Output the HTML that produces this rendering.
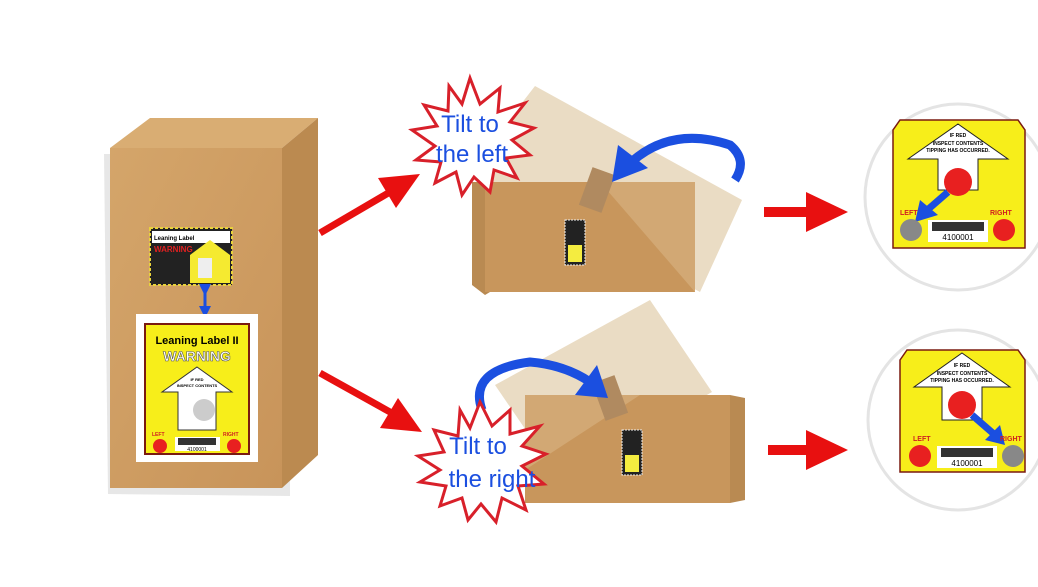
<!DOCTYPE html>
<html><head><meta charset="utf-8"><style>
html,body{margin:0;padding:0;background:#fff;width:1038px;height:587px;overflow:hidden}
svg text{font-family:"Liberation Sans",sans-serif}
</style></head><body>
<svg width="1038" height="587" viewBox="0 0 1038 587" xmlns="http://www.w3.org/2000/svg">
<defs>
<marker id="ar" viewBox="0 0 10 10" refX="5" refY="5" markerWidth="4" markerHeight="4" orient="auto"><path d="M0,0 L10,5 L0,10 z" fill="#1b4fe0"/></marker>
<linearGradient id="fr" x1="0" y1="0" x2="1" y2="1"><stop offset="0" stop-color="#d4a56a"/><stop offset="1" stop-color="#c8945a"/></linearGradient>
</defs>
<polygon points="104,154 108,494 290,496 290,154" fill="#bbb" opacity="0.35"/>
<polygon points="110,148 150,118 318,118 282,148" fill="#d9ad73"/>
<polygon points="282,148 318,118 318,455 282,488" fill="#bb8a50"/>
<rect x="110" y="148" width="172" height="340" fill="url(#fr)"/>
<rect x="150" y="228" width="82" height="57" fill="#222" stroke="#e8d23a" stroke-width="2" stroke-dasharray="3,2"/>
<rect x="152" y="231" width="78" height="12" fill="#fff"/>
<text x="154" y="240" font-size="6" font-weight="bold">Leaning Label</text>
<text x="154" y="252" font-size="8" font-weight="bold" fill="#e02020">WARNING</text>
<polygon points="190,255 210,240 230,255 230,283 190,283" fill="#f5ea30"/>
<rect x="198" y="258" width="14" height="20" fill="#eee"/>
<line x1="205" y1="290" x2="205" y2="312" stroke="#1b4fe0" stroke-width="3" marker-start="url(#ar)" marker-end="url(#ar)"/>
<rect x="136" y="314" width="122" height="148" fill="#fff"/>
<rect x="145" y="324" width="104" height="130" fill="#f7ee1a" stroke="#7a1a10" stroke-width="2"/>
<text x="197" y="344" font-size="11" font-weight="bold" text-anchor="middle" font-family="Liberation Serif">Leaning Label II</text>
<text x="197" y="361" font-size="14" font-weight="bold" text-anchor="middle" fill="#fff" stroke="#555" stroke-width="0.6">WARNING</text>
<polygon points="197,367 232,392 216,392 216,430 178,430 178,392 162,392" fill="#fff" stroke="#333" stroke-width="1"/>
<text x="197" y="381" font-size="4" text-anchor="middle" font-weight="bold">IF RED</text>
<text x="197" y="387" font-size="4" text-anchor="middle" font-weight="bold">INSPECT CONTENTS</text>
<circle cx="204" cy="410" r="11" fill="#ccc"/>
<text x="152" y="436" font-size="5" fill="#d02020" font-weight="bold">LEFT</text>
<text x="223" y="436" font-size="5" fill="#d02020" font-weight="bold">RIGHT</text>
<circle cx="160" cy="446" r="7" fill="#e82020"/>
<circle cx="234" cy="446" r="7" fill="#e82020"/>
<rect x="175" y="437" width="45" height="14" fill="#fff"/>
<rect x="178" y="438" width="38" height="7" fill="#333"/>
<text x="197" y="451" font-size="5" text-anchor="middle">4100001</text>
<line x1="320" y1="233" x2="390" y2="192" stroke="#e81010" stroke-width="7"/>
<polygon points="420,174 378,178 396,208" fill="#e81010"/>
<line x1="320" y1="373" x2="390" y2="412" stroke="#e81010" stroke-width="7"/>
<polygon points="422,432 380,428 398,398" fill="#e81010"/>
<rect x="764" y="207" width="48" height="10" fill="#e81010"/>
<polygon points="806,192 848,212 806,232" fill="#e81010"/>
<rect x="768" y="445" width="44" height="10" fill="#e81010"/>
<polygon points="806,430 848,450 806,470" fill="#e81010"/>
<polygon points="535,86 742,200 700,292 470,170" fill="#eadcc4"/>
<polygon points="472,182 490,182 490,292 485,295 472,285" fill="#b98a52"/>
<polygon points="485,182 695,182 695,292 485,292" fill="#c8965c"/>
<polygon points="600,182 695,182 695,292" fill="#d8b484" opacity="0.6"/>
<rect x="565" y="220" width="20" height="45" fill="#222" stroke="#eee" stroke-dasharray="2,1"/>
<rect x="568" y="245" width="14" height="17" fill="#f4ec40"/>
<rect x="585" y="170" width="24" height="40" fill="#b08a60" transform="rotate(20 597 190)"/>
<path d="M628,165 Q670,125 730,145 Q748,160 735,180" fill="none" stroke="#1b4fe0" stroke-width="9"/>
<polygon points="612,182 618,145 648,168" fill="#1b4fe0"/>
<polygon points="495,385 650,300 712,392 560,480" fill="#eadcc4"/>
<polygon points="525,395 730,395 730,503 525,503" fill="#c8965c"/>
<polygon points="730,395 745,398 745,500 730,503" fill="#b98a52"/>
<polygon points="525,395 640,395 525,470" fill="#d8b484" opacity="0.6"/>
<rect x="622" y="430" width="20" height="45" fill="#222" stroke="#eee" stroke-dasharray="2,1"/>
<rect x="625" y="455" width="14" height="17" fill="#f4ec40"/>
<rect x="598" y="378" width="24" height="40" fill="#b08a60" transform="rotate(-20 610 398)"/>
<path d="M482,410 Q468,370 530,362 Q565,365 590,382" fill="none" stroke="#1b4fe0" stroke-width="9"/>
<polygon points="608,398 575,395 597,365" fill="#1b4fe0"/>
<polygon points="470,78 480,104 500,88 498,112 525,103 510,122 534,128 512,140 530,155 506,158 517,178 494,170 490,192 474,177 462,195 456,172 435,183 441,162 416,160 435,146 412,130 437,126 424,105 448,111 449,86 462,104" fill="#fff" stroke="#d8202a" stroke-width="3"/>
<text x="470" y="132" font-size="24" text-anchor="middle" fill="#1b4fe0">Tilt to</text>
<text x="472" y="162" font-size="24" text-anchor="middle" fill="#1b4fe0">the left</text>
<polygon points="480,402 492,426 510,410 510,434 540,426 522,446 546,454 522,466 544,484 518,486 526,510 502,498 496,522 481,504 468,520 462,498 440,506 446,486 420,482 440,470 418,456 444,452 434,430 458,436 460,410 470,428" fill="#fff" stroke="#d8202a" stroke-width="3"/>
<text x="478" y="454" font-size="24" text-anchor="middle" fill="#1b4fe0">Tilt to</text>
<text x="492" y="487" font-size="24" text-anchor="middle" fill="#1b4fe0">the right</text>
<circle cx="958" cy="197" r="93" fill="#fff" stroke="#e4e4e4" stroke-width="3"/>
<g>
<polygon points="893,130 900,120 1018,120 1025,130 1025,248 893,248" fill="#f7ee1a" stroke="#7a1a10" stroke-width="1.5"/>
<polygon points="958,124 1008,159 978,159 978,190 938,190 938,159 908,159" fill="#fff" stroke="#222"/>
<text x="958" y="137" font-size="5" text-anchor="middle" font-weight="bold">IF RED</text>
<text x="958" y="145" font-size="5" text-anchor="middle" font-weight="bold">INSPECT CONTENTS</text>
<text x="958" y="152" font-size="5" text-anchor="middle" font-weight="bold">TIPPING HAS OCCURRED.</text>
<circle cx="958" cy="182" r="14" fill="#e82020"/>
<line x1="948" y1="192" x2="925" y2="212" stroke="#1b4fe0" stroke-width="7"/>
<polygon points="915,222 920,200 938,215" fill="#1b4fe0"/>
<text x="900" y="215" font-size="7" fill="#d02020" font-weight="bold">LEFT</text>
<text x="990" y="215" font-size="7" fill="#d02020" font-weight="bold">RIGHT</text>
<circle cx="911" cy="230" r="11" fill="#888"/>
<circle cx="1004" cy="230" r="11" fill="#e82020"/>
<rect x="928" y="220" width="60" height="22" fill="#fff"/>
<rect x="932" y="222" width="52" height="9" fill="#333"/>
<text x="958" y="240" font-size="8" text-anchor="middle">4100001</text>
</g>
<circle cx="958" cy="420" r="90" fill="#fff" stroke="#e4e4e4" stroke-width="3"/>
<g>
<polygon points="900,360 907,350 1018,350 1025,360 1025,472 900,472" fill="#f7ee1a" stroke="#7a1a10" stroke-width="1.5"/>
<polygon points="962,353 1010,387 982,387 982,420 942,420 942,387 914,387" fill="#fff" stroke="#222"/>
<text x="962" y="367" font-size="5" text-anchor="middle" font-weight="bold">IF RED</text>
<text x="962" y="375" font-size="5" text-anchor="middle" font-weight="bold">INSPECT CONTENTS</text>
<text x="962" y="382" font-size="5" text-anchor="middle" font-weight="bold">TIPPING HAS OCCURRED.</text>
<circle cx="962" cy="405" r="14" fill="#e82020"/>
<line x1="972" y1="415" x2="995" y2="435" stroke="#1b4fe0" stroke-width="7"/>
<polygon points="1005,445 985,440 1000,425" fill="#1b4fe0"/>
<text x="913" y="441" font-size="7" fill="#d02020" font-weight="bold">LEFT</text>
<text x="1000" y="441" font-size="7" fill="#d02020" font-weight="bold">RIGHT</text>
<circle cx="920" cy="456" r="11" fill="#e82020"/>
<circle cx="1013" cy="456" r="11" fill="#888"/>
<rect x="937" y="446" width="60" height="22" fill="#fff"/>
<rect x="941" y="448" width="52" height="9" fill="#333"/>
<text x="967" y="466" font-size="8" text-anchor="middle">4100001</text>
</g>
</svg>
</body></html>
